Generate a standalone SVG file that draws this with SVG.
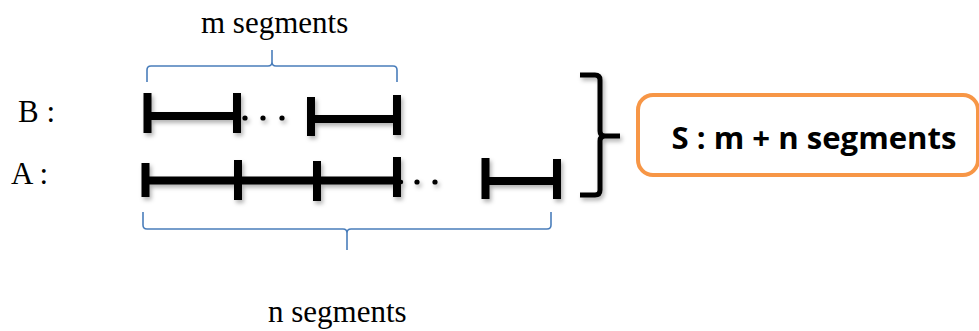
<svg xmlns="http://www.w3.org/2000/svg" width="979" height="331" viewBox="0 0 979 331">
<defs>
<filter id="sh" x="-20%" y="-20%" width="140%" height="140%">
<feDropShadow dx="2" dy="3" stdDeviation="2" flood-color="#000" flood-opacity="0.3"/>
</filter>
</defs>
<style>
.seg{stroke:#000;stroke-width:8;fill:none}
.dot{fill:#000}
.blue{stroke:#4a7ebb;stroke-width:1.6;fill:none}
.serif{font-family:"Liberation Serif","Times New Roman",serif;font-size:31px;fill:#000}
</style>
<rect width="979" height="331" fill="#fff"/>
<g id="labels">
<text class="serif" x="201" y="33">m segments</text>
<text class="serif" x="268" y="322">n segments</text>
<text class="serif" x="18" y="122" font-size="29">B :</text>
<text class="serif" x="11" y="184" font-size="29">A :</text>
</g>
<g id="B" filter="url(#sh)">
<path class="seg" d="M147.5 93V133M237 93V133M147.5 116H237"/>
<path class="seg" d="M311 97V136M397 95V135M311 119H397"/>
<circle class="dot" cx="245" cy="118" r="2.6"/>
<circle class="dot" cx="263" cy="118" r="2.6"/>
<circle class="dot" cx="282" cy="118" r="2.6"/>
</g>
<g id="A" filter="url(#sh)">
<path class="seg" d="M145.5 163V197M238 160V200M317 161V201M397 157V197M145.5 180.5H397"/>
<path class="seg" d="M485.5 158V199M557 159V199M485.5 181H557"/>
<circle class="dot" cx="401" cy="182" r="2.2"/>
<circle class="dot" cx="417" cy="182" r="2.6"/>
<circle class="dot" cx="435" cy="182" r="2.6"/>
</g>
<g id="connectors">
<path class="blue" d="M147 82V70Q147 66 151 66H268Q272 66 272 62V50M272 62Q272 66 276 66H393Q397 66 397 70V82"/>
<path class="blue" d="M143 212V225Q143 229 147 229H343Q347 229 347 233V250M347 233Q347 229 351 229H547Q551 229 551 225V212"/>
<path d="M580 75H595Q600 75 600 80V131Q600 136 605 136H620M605 136Q600 136 600 141V190Q600 195 595 195H580" stroke="#000" stroke-width="5" fill="none" filter="url(#sh)"/>
</g>
<g id="S">
<rect x="638" y="95" width="340" height="80" rx="15" ry="15" fill="#fff" stroke="#f79646" stroke-width="4"/>
<text x="814" y="149" text-anchor="middle" font-family="'Open Sans','Liberation Sans',sans-serif" font-weight="bold" font-size="31" textLength="285" lengthAdjust="spacingAndGlyphs" fill="#000">S : m + n segments</text>
</g>
</svg>
